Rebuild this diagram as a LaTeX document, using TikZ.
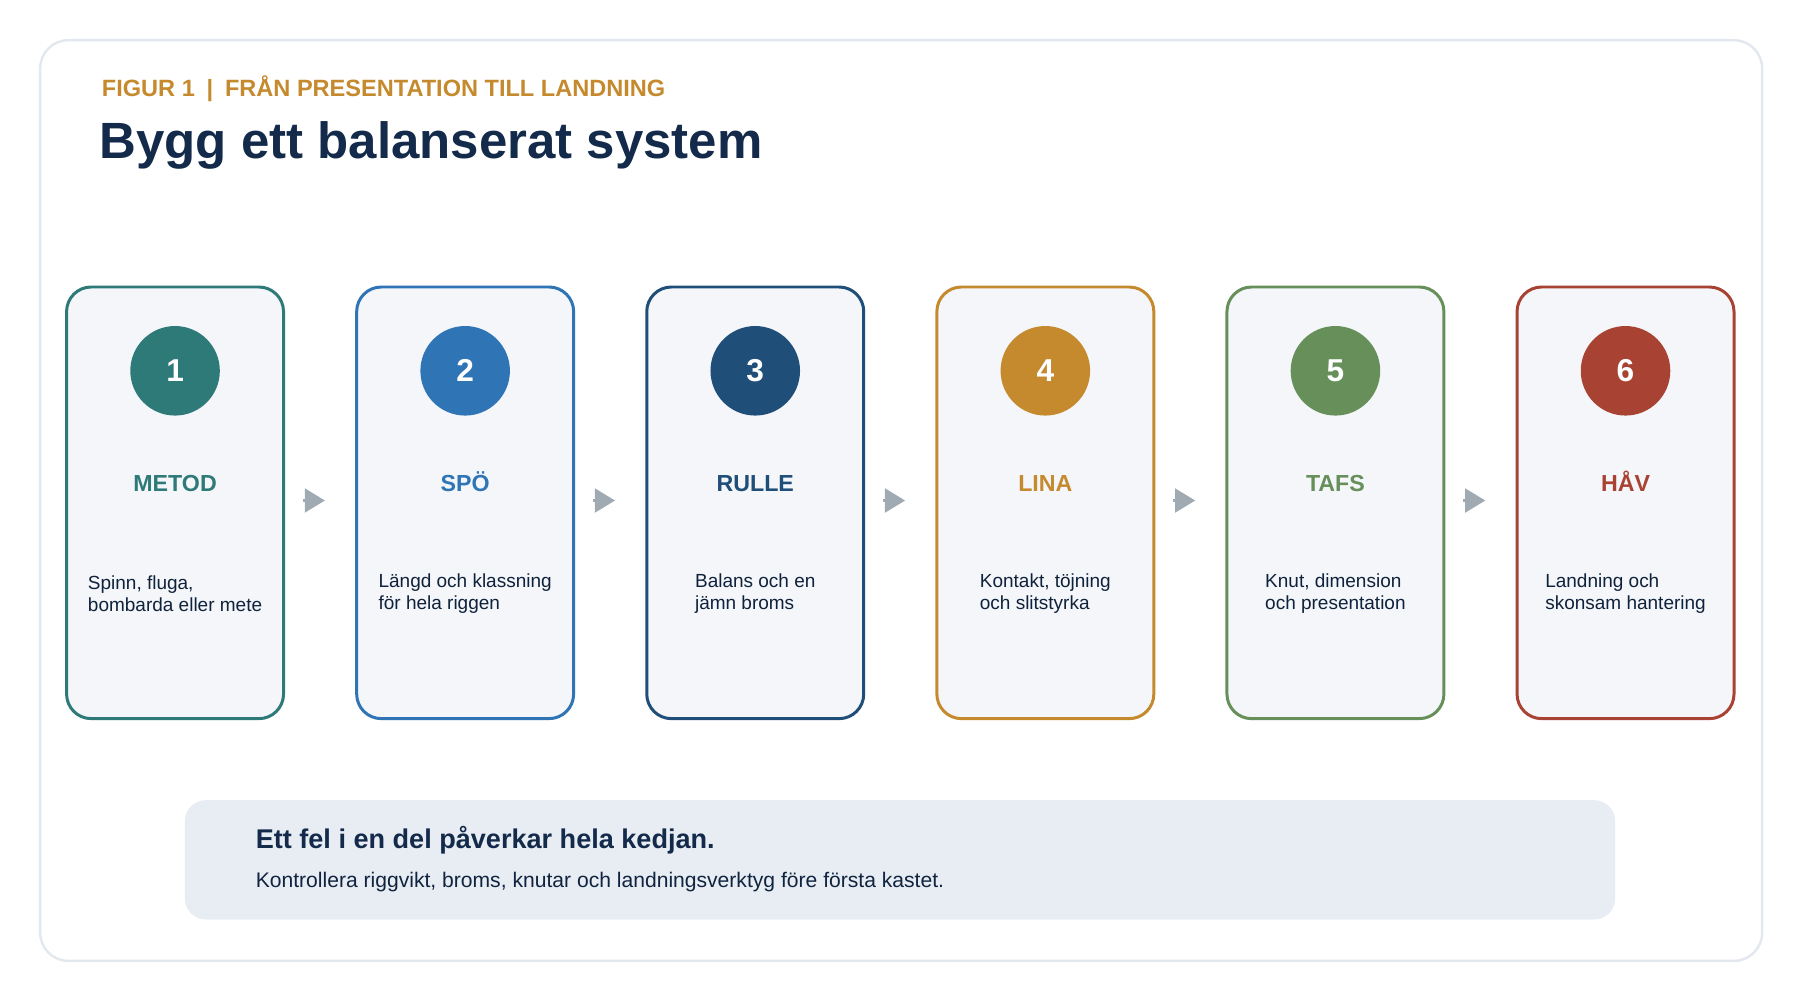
\documentclass[tikz,border=0pt]{standalone}
\usepackage{fontspec}
\setmainfont{Liberation Sans}
\usetikzlibrary{positioning,arrows.meta}
\definecolor{cteal}{HTML}{2E7A78}
\definecolor{cblue}{HTML}{2F74B5}
\definecolor{cnavy}{HTML}{1F4E79}
\definecolor{cgold}{HTML}{C68A2E}
\definecolor{cgreen}{HTML}{668F5A}
\definecolor{cred}{HTML}{A84334}
\definecolor{ink}{HTML}{132A4A}
\definecolor{cardbg}{HTML}{F4F6FA}
\definecolor{notebg}{HTML}{E8EDF4}
\definecolor{framec}{HTML}{E3E8EF}
\definecolor{arrowc}{HTML}{A0AAB2}
\tikzset{>=Triangle}
\tikzset{
  card/.style={draw=#1, line width=0.85pt, fill=cardbg, rounded corners=7pt,
    minimum width=54.3mm*0.4, inner sep=0pt},
  badge/.style={circle, fill=#1, minimum size=8.95mm, inner sep=0pt,
    text=white, font=\bfseries\fontsize{9}{10}\selectfont},
  head/.style={text=#1, font=\bfseries\fontsize{6.6}{8}\selectfont, anchor=base},
  desc/.style={align=left, text=ink!80!black, font=\fontsize{5.4}{6.3}\selectfont},
  link/.style={->, draw=arrowc, line width=1.1pt, shorten >=0pt}
}
\begin{document}
\begin{tikzpicture}[x=0.01148cm, y=-0.01148cm]
    \useasboundingbox (0,0) rectangle (1568,871);
    \draw[framec, line width=0.7pt, fill=white, rounded corners=8pt] (35,35) rectangle (1535,837);
    \node[anchor=base west, text=cgold, font=\bfseries\fontsize{6.7}{8}\selectfont] (kicker) at (78,84) {FIGUR 1\enspace|\enspace FRÅN PRESENTATION TILL LANDNING};
    \node[anchor=base west, text=ink, font=\bfseries\fontsize{14.5}{17}\selectfont] (title) at (76,138) {Bygg ett balanserat system};
    % the six steps
    \foreach \i/\c/\h/\d in {1/cteal/METOD/{Spinn, fluga,\\bombarda eller mete},
                           2/cblue/SPÖ/{Längd och klassning\\för hela riggen},
                           3/cnavy/RULLE/{Balans och en\\jämn broms},
                           4/cgold/LINA/{Kontakt, töjning\\och slitstyrka},
                           5/cgreen/TAFS/{Knut, dimension\\och presentation},
                           6/cred/HÅV/{Landning och\\skonsam hantering}}{
        \pgfmathsetmacro\cx{152.5+252.7*(\i-1)}
        \draw[card=\c] (\cx-94.5,250) rectangle (\cx+94.5,626);
        \coordinate (l\i) at (\cx-94.5,436);
        \coordinate (r\i) at (\cx+94.5,436);
        \node[badge=\c] (n\i) at (\cx,323) {\i};
        \node[head=\c] (h\i) at (\cx,428) {\h};
        \node[desc] (d\i) at (\cx,517) {\d};
    }
    \foreach \a/\b in {1/2,2/3,3/4,4/5,5/6}
        \draw[link] ([xshift=5.5]r\a) -- ([xshift=-9]l\b);
    % note box
    \draw[draw=none, fill=notebg, rounded corners=6pt] (161,697) rectangle (1407,801);
    \node[anchor=base west, text=ink, font=\bfseries\fontsize{7.7}{9}\selectfont] (note) at (212,739) {Ett fel i en del påverkar hela kedjan.};
    \node[anchor=base west, text=ink!85!black, font=\fontsize{6}{7}\selectfont] (notetxt) at (212,773) {Kontrollera riggvikt, broms, knutar och landningsverktyg före första kastet.};
\end{tikzpicture}
\end{document}
